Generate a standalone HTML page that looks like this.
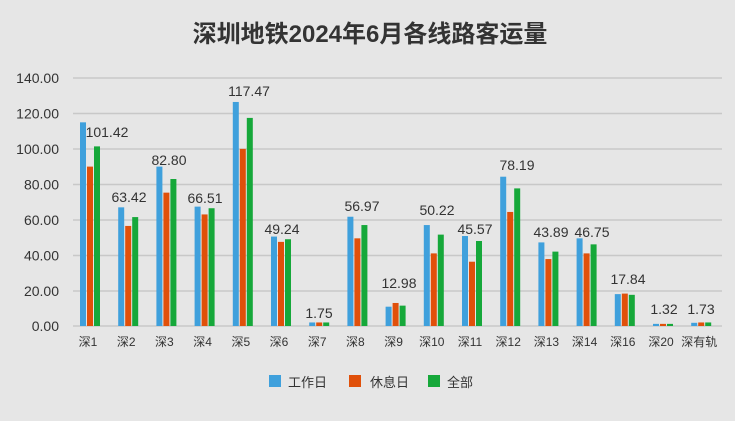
<!DOCTYPE html>
<html><head><meta charset="utf-8"><style>
body{margin:0;background:#fff}
svg{display:block}
text{font-family:"Liberation Sans","Noto Sans CJK SC",sans-serif;fill:#333}
</style></head><body>
<svg width="740" height="425" viewBox="0 0 740 425" xmlns="http://www.w3.org/2000/svg">
<rect x="0" y="0" width="735" height="421" fill="#e6e6e6"/>
<text x="370" y="42" text-anchor="middle" font-size="24" font-weight="bold" style="fill:#333">深圳地铁2024年6月各线路客运量</text>
<g stroke="#c8c8c8" stroke-width="1.5">
<line x1="73" x2="722" y1="78" y2="78"/><line x1="73" x2="722" y1="113.5" y2="113.5"/>
<line x1="73" x2="722" y1="149" y2="149"/><line x1="73" x2="722" y1="184.5" y2="184.5"/>
<line x1="73" x2="722" y1="220" y2="220"/><line x1="73" x2="722" y1="255.5" y2="255.5"/>
<line x1="73" x2="722" y1="291" y2="291"/><line x1="73" x2="722" y1="326" y2="326"/>
</g>
<g font-size="14" text-anchor="end">
<text x="59" y="83">140.00</text><text x="59" y="118.5">120.00</text><text x="59" y="154">100.00</text>
<text x="59" y="189.5">80.00</text><text x="59" y="225">60.00</text><text x="59" y="260.5">40.00</text>
<text x="59" y="296">20.00</text><text x="59" y="331">0.00</text>
</g>
<g id="bars"></g>
<g id="labels" font-size="14" text-anchor="middle"></g>
<g id="xl" font-size="12" text-anchor="middle"></g>
<rect x="269" y="375" width="12" height="12" fill="#3fa0dc"/><text x="288" y="387" font-size="13">工作日</text>
<rect x="349" y="375" width="12" height="12" fill="#e0500a"/><text x="370" y="387" font-size="13">休息日</text>
<rect x="428" y="375" width="12" height="12" fill="#16a83a"/><text x="447" y="387" font-size="13">全部</text>
</svg>
<script>
var d=[["深1",115,90,101.42,107,132,"101.42"],["深2",67,56.5,61.5,129,197,"63.42"],["深3",90,75.3,83,169,160,"82.80"],["深4",67.4,63,66.5,205,198,"66.51"],["深5",126.5,100,117.5,249,91,"117.47"],["深6",50.5,47.5,49,282,229,"49.24"],["深7",2,2,2,319,313,"1.75"],["深8",61.7,49.5,57,362,206,"56.97"],["深9",10.9,13,11.5,399,283,"12.98"],["深10",57,41,51.6,437,210,"50.22"],["深11",50.8,36.3,48,475,229,"45.57"],["深12",84.3,64.4,77.7,517,165,"78.19"],["深13",47.2,37.8,42,551,232,"43.89"],["深14",49.5,41,46.1,592,232,"46.75"],["深16",18,18.3,17.6,628,279,"17.84"],["深20",1.2,1.2,1.2,664,309,"1.32"],["深有轨",1.8,2,2,701,309,"1.73"]];
var ns="http://www.w3.org/2000/svg",B=document.getElementById("bars"),L=document.getElementById("labels"),X=document.getElementById("xl");
var cols=["#3fa0dc","#e0500a","#16a83a"],off=[-10,-3,4];
d.forEach(function(r,i){var c=90+i*38.2;
for(var k=0;k<3;k++){var h=r[1+k]*1.771,e=document.createElementNS(ns,"rect");e.setAttribute("x",c+off[k]);e.setAttribute("y",326-h);e.setAttribute("width",6);e.setAttribute("height",h);e.setAttribute("fill",cols[k]);B.appendChild(e);}
var t=document.createElementNS(ns,"text");t.setAttribute("x",r[4]);t.setAttribute("y",r[5]+5);t.textContent=r[6];L.appendChild(t);
t=document.createElementNS(ns,"text");t.setAttribute("x",c-2);t.setAttribute("y",346);t.textContent=r[0];X.appendChild(t);});
</script>
</body></html>
